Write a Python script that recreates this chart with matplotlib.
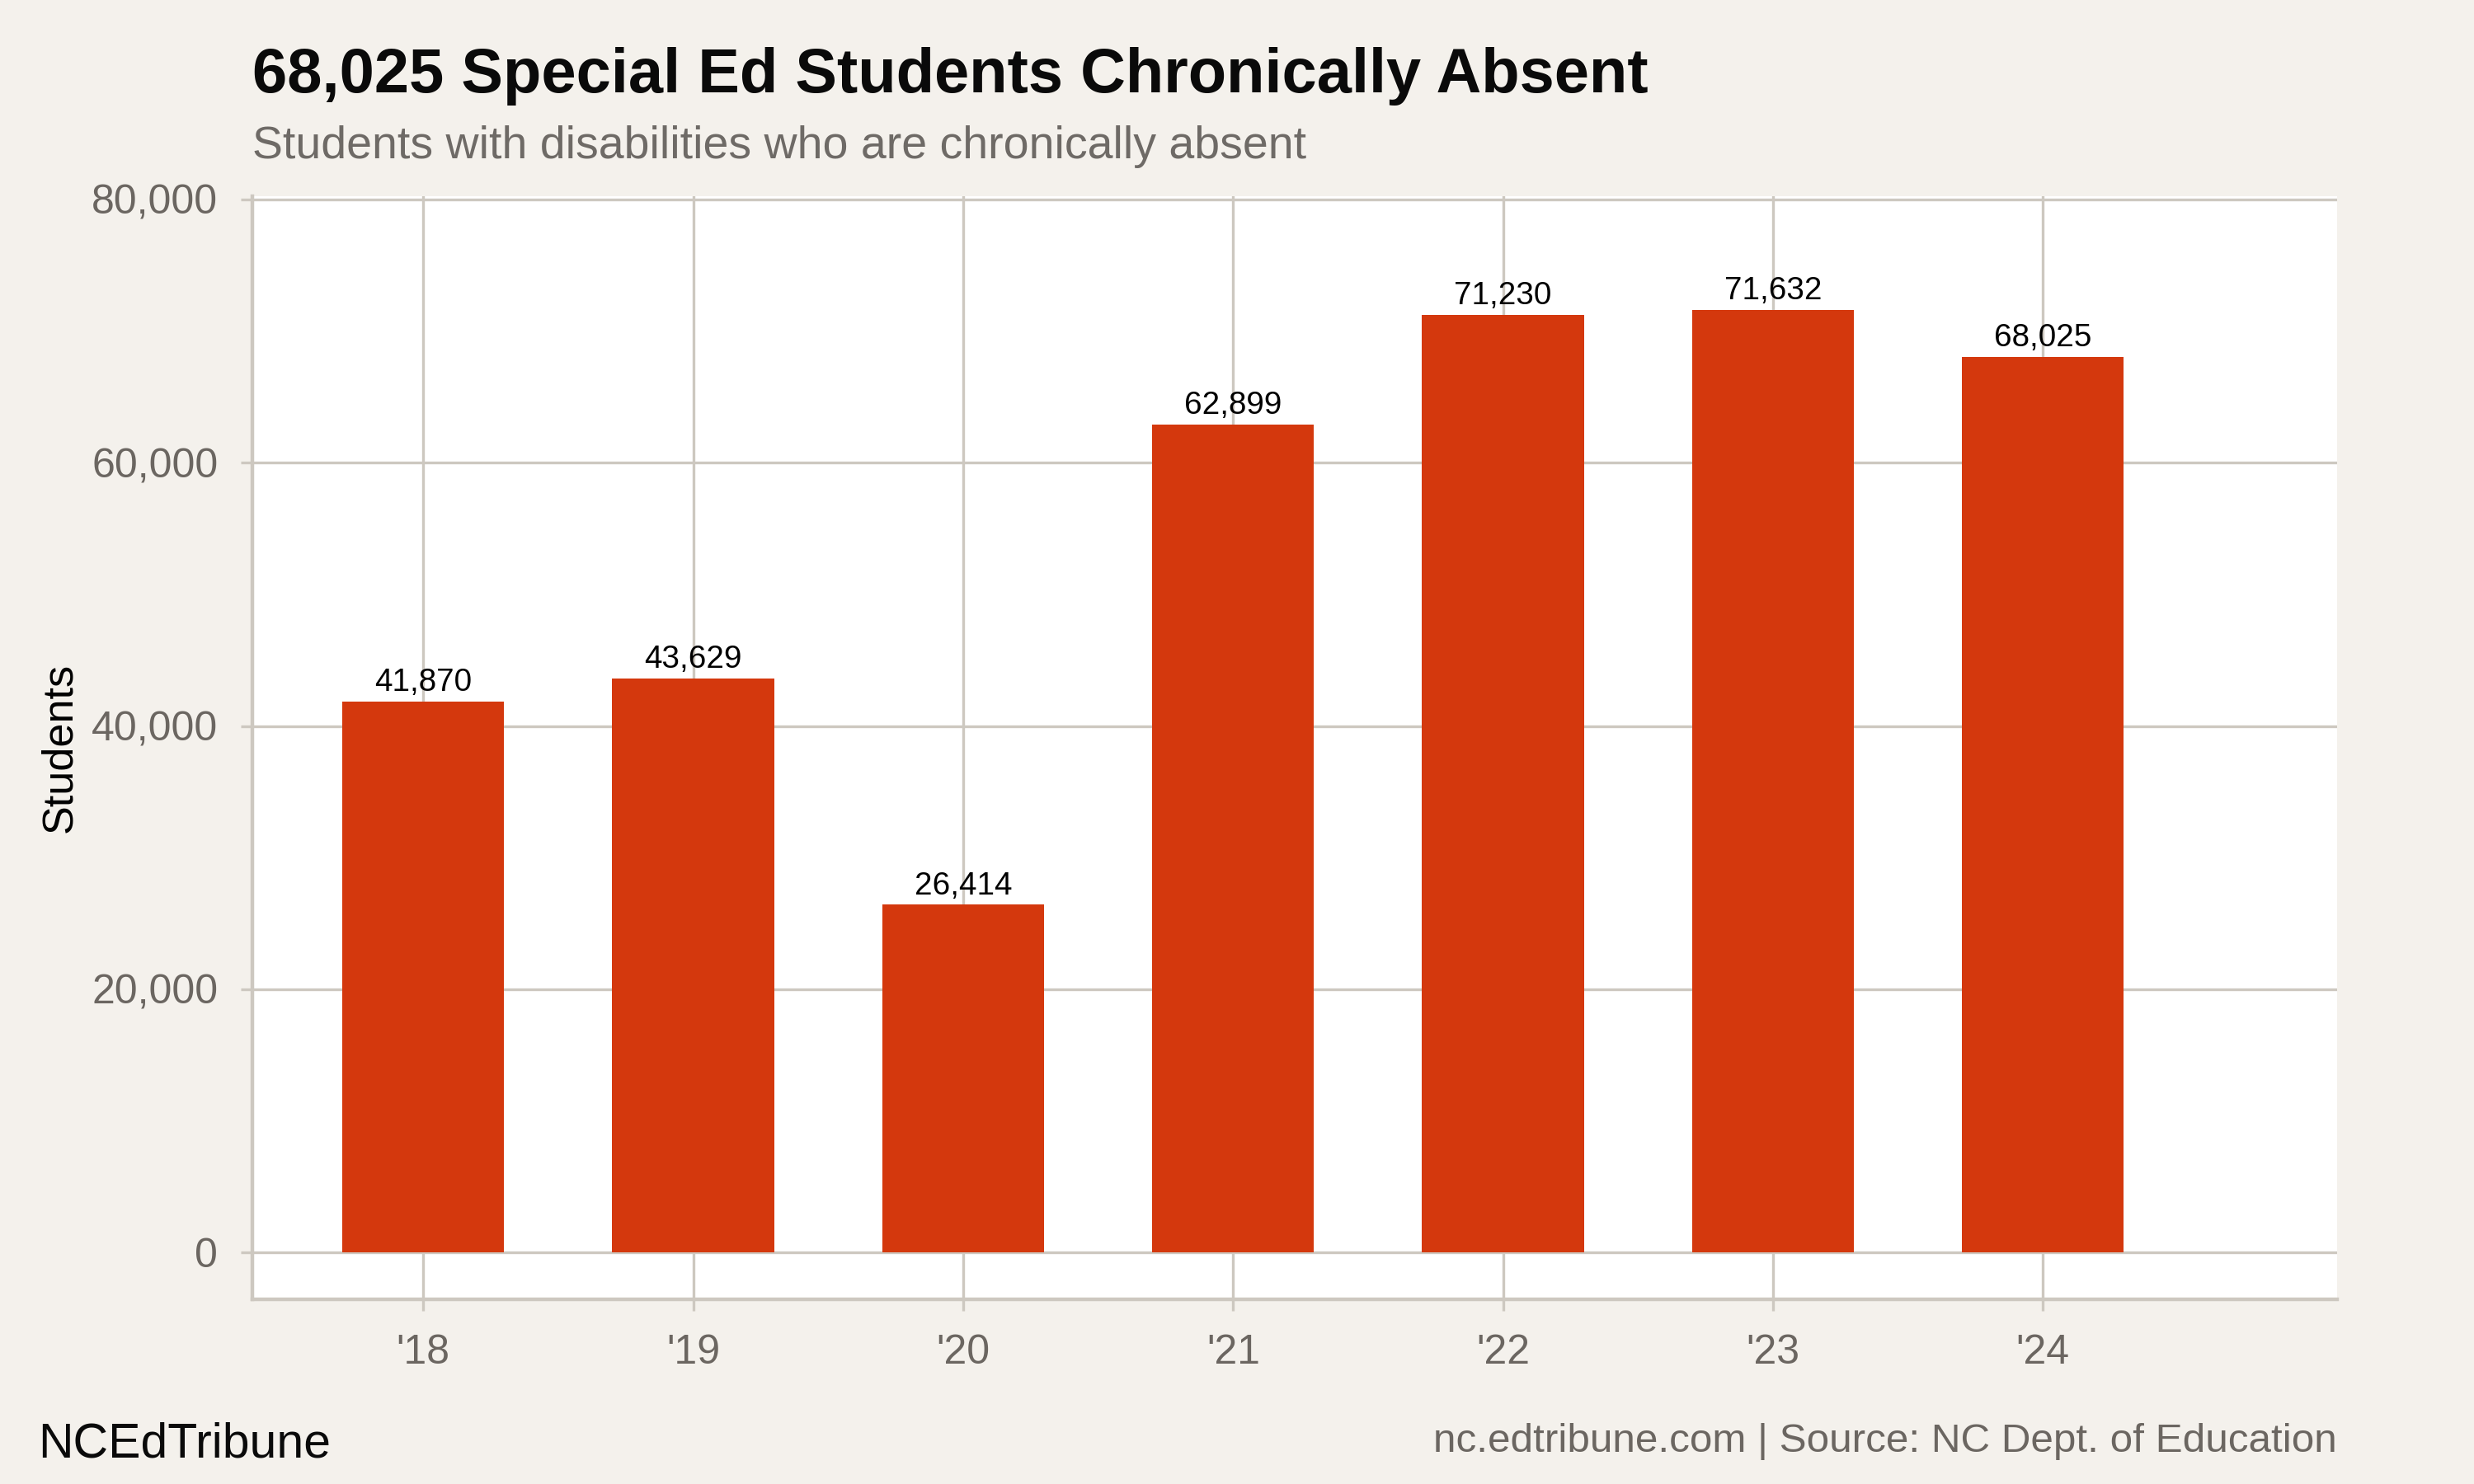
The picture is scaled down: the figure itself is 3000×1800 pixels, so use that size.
import matplotlib
matplotlib.use("Agg")
from matplotlib import pyplot as plt
from matplotlib.ticker import FuncFormatter

plt.rcParams['font.family'] = ['Liberation Sans', 'DejaVu Sans']

# データ
years = ["'18", "'19", "'20", "'21", "'22", "'23", "'24"]
students = [41870, 43629, 26414, 62899, 71230, 71632, 68025]
y_ticks = [0, 20000, 40000, 60000, 80000]

bg = "#f4f1ec"
grid = "#cdc8c0"
gray = "#6b6661"
bar_color = "#d4380d"

fig = plt.figure(figsize=(15, 9), dpi=200, facecolor=bg)
ax = fig.add_axes([0.102, 0.1244, 0.8427, 0.7434])
ax.set_facecolor("white")

x = list(range(len(years)))
ax.bar(x, students, width=0.6, color=bar_color, zorder=3)

for xi, v in zip(x, students):
    ax.annotate(f"{v:,}", (xi, v), xytext=(0, 4.6), textcoords="offset points",
                ha="center", va="baseline", fontsize=13.9, color="black", zorder=4)

ax.set_xlim(-0.633, 7.09)
ax.set_ylim(-3570, 80250)
ax.set_xticks(x)
ax.set_xticklabels(years)
ax.set_yticks(y_ticks)
ax.yaxis.set_major_formatter(FuncFormatter(lambda v, p: f"{int(v):,}"))

ax.grid(True, color=grid, linewidth=1.2, zorder=0)
for s in ["top", "right"]:
    ax.spines[s].set_visible(False)
for s in ["left", "bottom"]:
    ax.spines[s].set_color(grid)
    ax.spines[s].set_linewidth(1.6)
ax.tick_params(axis="both", colors=grid, length=5, width=1.2, pad=10,
               labelsize=18, labelcolor=gray)

ax.set_ylabel("Students", fontsize=18.8, color="black", labelpad=5)

fig.text(0.102, 1 - 112 / 1800, "68,025 Special Ed Students Chronically Absent",
         fontsize=27.3, fontweight="bold", color="#0a0a0a", ha="left", va="baseline")
fig.text(0.102, 1 - 192 / 1800, "Students with disabilities who are chronically absent",
         fontsize=20, color="#6e6a66", ha="left", va="baseline")
fig.text(46 / 3000, 1 - 1768 / 1800, "NCEdTribune",
         fontsize=21.2, color="#0a0a0a", ha="left", va="baseline")
fig.text(0.9447, 1 - 1761 / 1800, "nc.edtribune.com | Source: NC Dept. of Education",
         fontsize=17.8, color=gray, ha="right", va="baseline")

plt.savefig("out.png", dpi=200, facecolor=bg)
